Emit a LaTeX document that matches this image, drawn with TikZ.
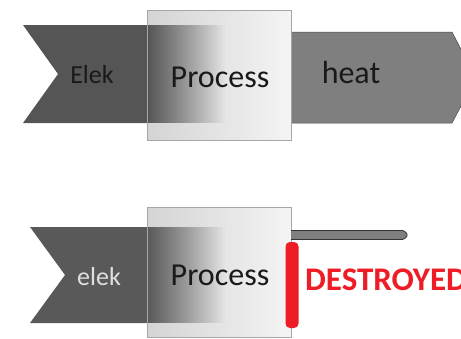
\documentclass[tikz,border=0pt]{standalone}
\usepackage{fontspec}
\setmainfont{Carlito}
\usetikzlibrary{fadings}
\tikzfading[name=fadeR, left color=transparent!0, right color=transparent!100]
\definecolor{chevA}{HTML}{555555}
\definecolor{chevB}{HTML}{595959}
\definecolor{heatC}{HTML}{7F7F7F}
\definecolor{boxL}{HTML}{D4D4D4}
\definecolor{boxR}{HTML}{F4F4F4}
\definecolor{redC}{HTML}{EE1C24}
\tikzset{
  chev/.style={fill=chevA, draw=none},
  procbox/.style={left color=boxL, right color=boxR, draw=gray!70, line width=0.8pt},
  lbl/.style={inner sep=0pt, anchor=base},
}
\begin{document}
\begin{tikzpicture}[x=1pt,y=-1pt]
\useasboundingbox (0,0) rectangle (461,338);
\clip (0,0) rectangle (461,338);
% ---- top row ----
\fill[heatC, draw=gray!60!black, line width=0.5pt] (291,32) -- (452,32) -- (476,78) -- (452,123) -- (291,123) -- cycle;
\fill[chev] (23,25) -- (160,25) -- (160,123) -- (23,123) -- (58,74) -- cycle;
\shade[procbox] (147,10) rectangle (291,140);
\fill[chevA, path fading=fadeR] (147,25) rectangle (225,123);
\draw[gray!70, line width=0.8pt] (147,10) rectangle (291,140);
\node[lbl, font=\fontsize{26}{26}\selectfont, text=black!90] (elek1) at (92,83) {Elek};
\node[lbl, font=\fontsize{32}{32}\selectfont, text=black!90] (proc1) at (220,87) {Process};
\node[lbl, font=\fontsize{32}{32}\selectfont, text=black!90] (heat) at (351,83) {heat};
% ---- bottom row ----
\fill[chevB] (30,227) -- (160,227) -- (160,323) -- (30,323) -- (65,275) -- cycle;
\shade[procbox] (147,207) rectangle (291,337);
\fill[chevB, path fading=fadeR] (147,227) rectangle (225,323);
\draw[gray!70, line width=0.8pt] (147,207) rectangle (291,337);
\draw[fill=heatC, draw=black!80, line width=0.8pt, rounded corners=1.5pt] (291,230.5) -- (404,230.5) -- (408,235) -- (404,239.5) -- (291,239.5);
\fill[redC, rounded corners=4.5pt] (285.5,242) rectangle (298.5,328);
\node[lbl, font=\fontsize{26}{26}\selectfont, text=gray!25] (elek2) at (99,285) {elek};
\node[lbl, font=\fontsize{32}{32}\selectfont, text=black!90] (proc2) at (220,285) {Process};
\node[lbl, anchor=base west, font=\bfseries\fontsize{33}{33}\selectfont, text=redC] (destroyed) at (305,290) {DESTROYED};
\end{tikzpicture}
\end{document}
